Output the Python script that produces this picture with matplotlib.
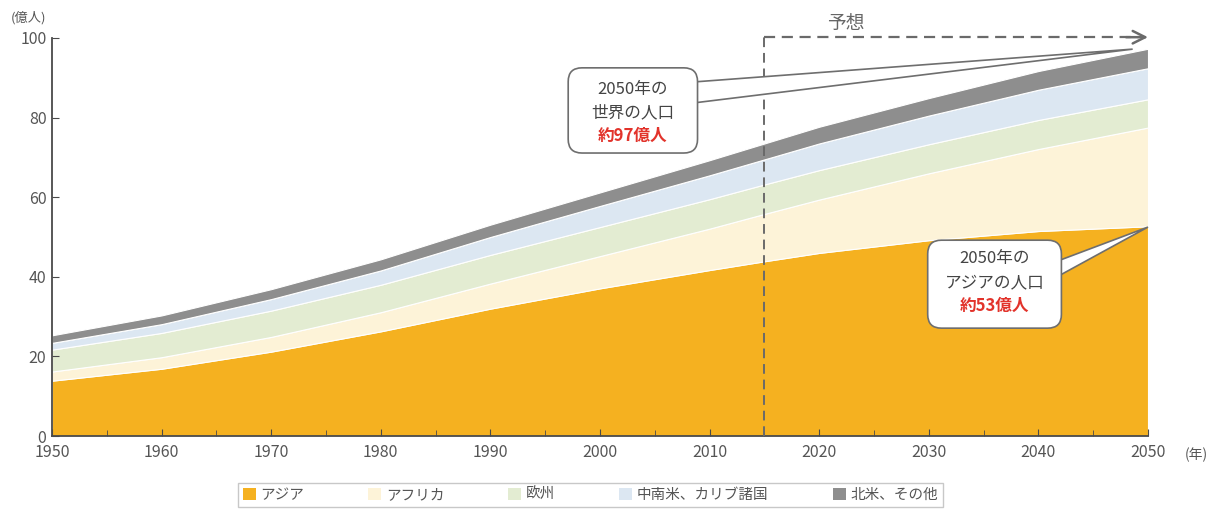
import matplotlib
matplotlib.use("Agg")
import matplotlib.pyplot as plt
from matplotlib.patches import FancyBboxPatch, Polygon

plt.rcParams['font.family'] = ['Noto Sans CJK JP', 'DejaVu Sans']

years = [1950, 1960, 1970, 1980, 1990, 2000, 2010, 2015, 2020, 2030, 2040, 2050]
asia = [13.9, 16.9, 21.2, 26.3, 32.0, 37.1, 41.7, 43.9, 46.0, 49.2, 51.5, 52.7]
africa = [2.3, 2.9, 3.7, 4.8, 6.3, 8.1, 10.4, 11.9, 13.4, 16.8, 20.6, 24.8]
europe = [5.5, 6.1, 6.6, 6.9, 7.2, 7.3, 7.4, 7.4, 7.4, 7.3, 7.3, 7.1]
latam = [1.7, 2.2, 2.9, 3.6, 4.5, 5.3, 6.0, 6.3, 6.7, 7.2, 7.6, 7.8]
namer = [1.9, 2.2, 2.5, 2.8, 3.1, 3.4, 3.8, 4.0, 4.2, 4.4, 4.7, 4.9]

labels = ['アジア', 'アフリカ', '欧州', '中南米、カリブ諸国', '北米、その他']
colors = ['#F5B120', '#FDF3D8', '#E3ECD2', '#DCE7F2', '#8E8E8E']

xticks = [1950, 1960, 1970, 1980, 1990, 2000, 2010, 2020, 2030, 2040, 2050]
yticks = [0, 20, 40, 60, 80, 100]

forecast_start = 2015

fig = plt.figure(figsize=(12.17, 5.12), dpi=100)
ax = fig.add_axes([0.0427, 0.1484, 0.9006, 0.7774])

polys = ax.stackplot(years, asia, africa, europe, latam, namer,
                     colors=colors, labels=labels,
                     edgecolor='white', linewidth=0.8)

ax.set_xlim(1950, 2050)
ax.set_ylim(0, 100)
ax.set_xticks(xticks)
ax.set_xticks(range(1950, 2051, 5), minor=True)
ax.set_yticks(yticks)
for s in ['top', 'right']:
    ax.spines[s].set_visible(False)
for s in ['left', 'bottom']:
    ax.spines[s].set_color('#4a4a4a')
    ax.spines[s].set_linewidth(1.3)
    ax.spines[s].set_zorder(3)
ax.tick_params(axis='both', which='both', direction='in', colors='#4a4a4a',
               labelcolor='#555555', labelsize=11.5)
ax.tick_params(axis='x', which='major', length=5, pad=6)
ax.tick_params(axis='x', which='minor', length=4)
ax.tick_params(axis='y', which='major', length=5, pad=4)

# unit labels
ax.text(-0.021, 1.05, '(億人)', transform=ax.transAxes, ha='center', va='center',
        fontsize=9.5, color='#555555')
ax.text(1.044, -0.048, '(年)', transform=ax.transAxes, ha='center', va='center',
        fontsize=10, color='#555555')

# forecast lines
dash_col = '#6a6a6a'
ax.plot([forecast_start, forecast_start], [0, 100.2], color=dash_col, lw=1.4,
        ls=(0, (5, 3)), clip_on=False, zorder=4)
ax.plot([forecast_start, 2049.2], [100.2, 100.2], color=dash_col, lw=1.6,
        ls=(0, (5, 3)), clip_on=False, zorder=4)
ax.annotate('', xy=(2050, 100.2), xytext=(2048.0, 100.2),
            arrowprops=dict(arrowstyle='->,head_length=0.9,head_width=0.45',
                            color=dash_col, lw=1.8, shrinkA=0, shrinkB=0),
            annotation_clip=False, zorder=4)
ax.text(2022.4, 103.6, '予想', ha='center', va='center', fontsize=13.5,
        color='#666666', clip_on=False)

# callouts
fig.canvas.draw()
p0 = ax.transData.transform((0, 0))
p1 = ax.transData.transform((1, 1))
aspect = (p1[0] - p0[0]) / (p1[1] - p0[1])

edge = '#6e6e6e'


def callout(x0, x1, y0, y1, base_y1, base_y2, tip, lines, ys):
    wedge = Polygon([(x1 - 0.6, base_y1), tip, (x1 - 0.6, base_y2)], closed=True,
                    facecolor='white', edgecolor=edge, lw=1.2, zorder=6,
                    clip_on=False, joinstyle='miter')
    ax.add_patch(wedge)
    box = FancyBboxPatch((x0, y0), x1 - x0, y1 - y0,
                         boxstyle='round,pad=0,rounding_size=1.25',
                         mutation_aspect=aspect, facecolor='white',
                         edgecolor=edge, lw=1.2, zorder=7, clip_on=False)
    ax.add_patch(box)
    xc = (x0 + x1) / 2
    for i, (t, yy) in enumerate(zip(lines, ys)):
        red = i == len(lines) - 1
        ax.text(xc, yy, t, ha='center', va='center', fontsize=12,
                color='#E2332B' if red else '#444444',
                fontweight='bold' if red else 'normal', zorder=8)


callout(1997.1, 2008.9, 71.1, 92.5, 88.9, 83.6, (2048.6, 97.2),
        ['2050年の', '世界の人口', '約97億人'], [87.0, 81.3, 75.4])
callout(2029.9, 2042.1, 27.1, 49.2, 43.7, 39.7, (2050, 52.5),
        ['2050年の', 'アジアの人口', '約53億人'], [44.6, 38.6, 32.6])

leg = fig.legend(handles=polys, labels=labels, loc='center',
                 bbox_to_anchor=(0.485, 0.033), ncol=5, frameon=True,
                 fancybox=False, edgecolor='#bbbbbb', fontsize=10.5,
                 handlelength=0.9, handleheight=0.9, handletextpad=0.3,
                 columnspacing=4.4, borderpad=0.35, labelcolor='#555555')
leg.get_frame().set_linewidth(1.0)
for h in leg.legend_handles:
    h.set_edgecolor('none')

fig.savefig('out.png', dpi=100)
